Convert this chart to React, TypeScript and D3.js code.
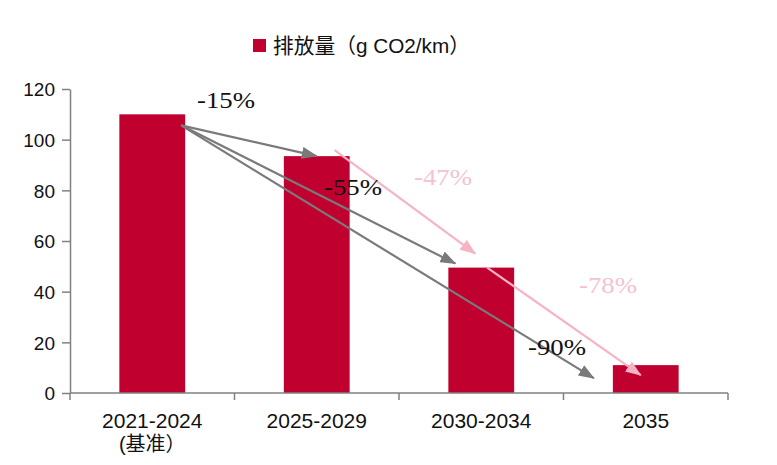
import { useRef, useEffect } from 'react';
import * as d3 from 'd3';

const categories = ['2021-2024', '2025-2029', '2030-2034', '2035'];
const subLabels = ['(基准）', '', '', ''];
const emissions = [110, 93.5, 49.5, 11];
const yTicks = [0, 20, 40, 60, 80, 100, 120];
const seriesName = '排放量（g CO2/km）';

// arrows: from bar index -> to bar index, label, kind
const arrowFrom = [0, 0, 0, 1, 2];
const arrowTo = [1, 2, 3, 2, 3];
const arrowLabels = ['-15%', '-55%', '-90%', '-47%', '-78%'];
const arrowKinds = ['gray', 'gray', 'gray', 'pink', 'pink'];

export default function App() {
  const svgRef = useRef<SVGSVGElement>(null);

  useEffect(() => {
    if (!svgRef.current) return;
    const svg = d3.select(svgRef.current);
    svg.selectAll('*').remove();

    const width = 777;
    const height = 465;
    const left = 70;
    const right = 728;
    const top = 89;
    const bottom = 393;
    const barColor = '#c0002f';
    const axisColor = '#808080';
    const grayArrow = '#7a7a7a';
    const pinkArrow = '#f5b3c3';
    const pinkText = '#f3c3cf';
    const sans = "'Liberation Sans', Arial, 'Noto Sans CJK SC', sans-serif";
    const serif = "'Liberation Serif', 'Times New Roman', serif";

    svg.attr('width', width).attr('height', height);
    svg.append('rect').attr('width', width).attr('height', height).attr('fill', '#fff');

    const x = d3.scaleBand<string>().domain(categories).range([left, right]).paddingInner(0.6).paddingOuter(0.3);
    const step = (right - left) / categories.length;
    const y = d3.scaleLinear().domain([0, 120]).range([bottom, top]);

    const defs = svg.append('defs');
    const mk = (id: string, color: string) =>
      defs
        .append('marker')
        .attr('id', id)
        .attr('markerUnits', 'userSpaceOnUse')
        .attr('viewBox', '0 0 16 12')
        .attr('refX', 15)
        .attr('refY', 6)
        .attr('markerWidth', 16)
        .attr('markerHeight', 12)
        .attr('orient', 'auto')
        .append('path')
        .attr('d', 'M0,0 L16,6 L0,12 Z')
        .attr('fill', color);
    mk('ag', grayArrow);
    mk('ap', pinkArrow);

    // bars
    svg
      .append('g')
      .selectAll('rect')
      .data(emissions)
      .join('rect')
      .attr('x', (_, i) => x(categories[i])!)
      .attr('y', (d) => y(d))
      .attr('width', x.bandwidth())
      .attr('height', (d) => y(0) - y(d))
      .attr('fill', barColor);

    // y axis
    const yAxis = svg
      .append('g')
      .attr('transform', `translate(${left},0)`)
      .call(d3.axisLeft(y).tickValues(yTicks).tickSize(8).tickPadding(7).tickSizeOuter(0));
    yAxis.select('.domain').attr('stroke', axisColor).attr('stroke-width', 1.5);
    yAxis.selectAll('.tick line').attr('stroke', axisColor).attr('stroke-width', 1.5);
    yAxis
      .selectAll('.tick text')
      .attr('fill', '#111')
      .attr('font-family', sans)
      .attr('font-size', 19)
      .attr('dy', '0.36em');

    // x axis
    const xg = svg.append('g');
    xg.append('line')
      .attr('x1', left)
      .attr('x2', right)
      .attr('y1', bottom)
      .attr('y2', bottom)
      .attr('stroke', axisColor)
      .attr('stroke-width', 1.5);
    xg.selectAll('line.tk')
      .data(d3.range(categories.length + 1))
      .join('line')
      .attr('class', 'tk')
      .attr('x1', (i) => left + i * step)
      .attr('x2', (i) => left + i * step)
      .attr('y1', bottom)
      .attr('y2', bottom + 7)
      .attr('stroke', axisColor)
      .attr('stroke-width', 1.5);
    xg.selectAll('text.cat')
      .data(categories)
      .join('text')
      .attr('class', 'cat')
      .attr('x', (d) => x(d)! + x.bandwidth() / 2)
      .attr('y', 428)
      .attr('text-anchor', 'middle')
      .attr('font-family', sans)
      .attr('font-size', 21)
      .attr('fill', '#111')
      .text((d) => d);
    xg.selectAll('text.sub')
      .data(subLabels)
      .join('text')
      .attr('class', 'sub')
      .attr('x', (_, i) => x(categories[i])! + x.bandwidth() / 2)
      .attr('y', 451)
      .attr('text-anchor', 'middle')
      .attr('font-family', sans)
      .attr('font-size', 20)
      .attr('fill', '#111')
      .text((d) => d);

    // arrows (anchors derived from bar positions)
    const bw = x.bandwidth();
    const starts: Array<[number, number]> = [
      [-4, 11],
      [-4, 11],
      [-4, 11],
      [-15, -6],
      [-27, 0],
    ];
    const ends: Array<[number, number]> = [
      [bw / 2, 0],
      [7, -4],
      [-19, 13],
      [bw / 2 - 6, -14],
      [bw / 2 - 5, 10],
    ];
    const ag = svg.append('g');
    arrowFrom.forEach((fi, k) => {
      const ti = arrowTo[k];
      const x1 = x(categories[fi])! + bw + starts[k][0];
      const y1 = y(emissions[fi]) + starts[k][1];
      const x2 = x(categories[ti])! + ends[k][0];
      const y2 = y(emissions[ti]) + ends[k][1];
      const pink = arrowKinds[k] === 'pink';
      ag.append('line')
        .attr('x1', x1)
        .attr('y1', y1)
        .attr('x2', x2)
        .attr('y2', y2)
        .attr('stroke', pink ? pinkArrow : grayArrow)
        .attr('stroke-width', 2.2)
        .attr('marker-end', `url(#${pink ? 'ap' : 'ag'})`);
    });

    // labels for arrows
    const labelPos: Array<[number, number]> = [
      [226, 108],
      [353, 195],
      [557, 355],
      [443, 185],
      [608, 293],
    ];
    svg
      .append('g')
      .selectAll('text')
      .data(arrowLabels)
      .join('text')
      .attr('x', (_, i) => labelPos[i][0] - 29)
      .attr('y', (_, i) => labelPos[i][1])
      .attr('font-family', serif)
      .attr('font-size', 23)
      .attr('textLength', 58)
      .attr('lengthAdjust', 'spacingAndGlyphs')
      .attr('fill', (_, i) => (arrowKinds[i] === 'pink' ? pinkText : '#111'))
      .text((d) => d);

    // legend
    const lg = svg.append('g');
    lg.append('rect').attr('x', 253).attr('y', 39).attr('width', 13).attr('height', 13).attr('fill', barColor);
    lg.append('text')
      .attr('x', 273)
      .attr('y', 53)
      .attr('font-family', sans)
      .attr('font-size', 21)
      .attr('textLength', 197)
      .attr('lengthAdjust', 'spacingAndGlyphs')
      .attr('fill', '#111')
      .text(seriesName);
  }, []);

  return <svg ref={svgRef} style={{ position: 'absolute', left: 0, top: 0, display: 'block' }} />;
}
